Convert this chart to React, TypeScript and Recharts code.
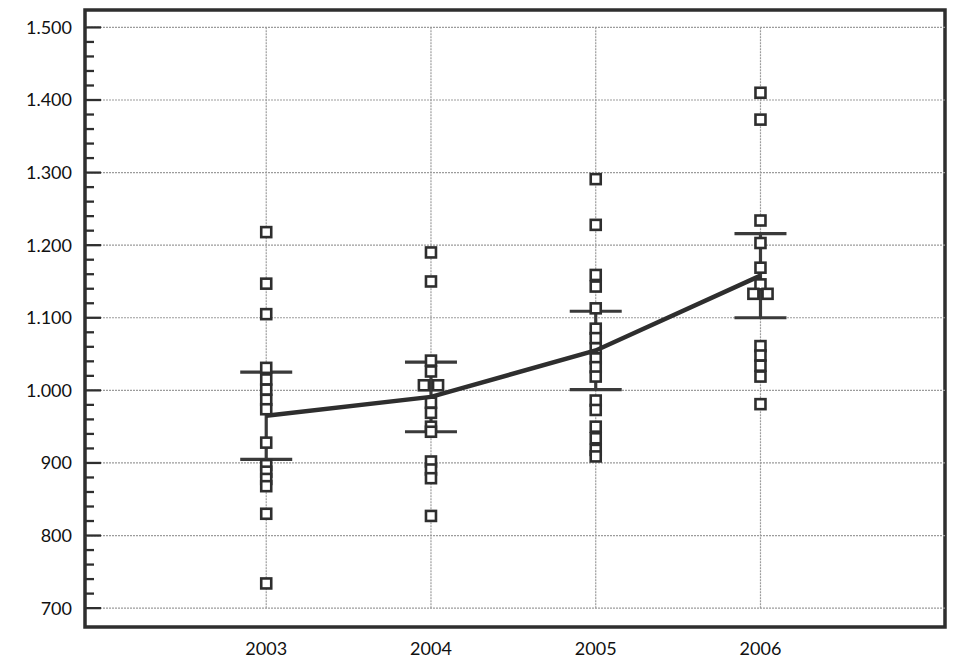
import { ErrorBar, ReferenceArea, ReferenceLine, Scatter, ScatterChart, XAxis, YAxis } from "recharts";

const years = [2003, 2004, 2005, 2006];

const values2003 = [1218, 1147, 1105, 1031, 1015, 1001, 987, 974, 928, 897, 888, 878, 868, 830, 734];
const values2004 = [1190, 1150, 1041, 1026, 983, 969, 950, 943, 902, 891, 879, 827];
const values2005 = [1291, 1228, 1159, 1143, 1113, 1085, 1072, 1058, 1044, 1032, 1019, 986, 973, 950, 934, 918, 909];
const values2006 = [1410, 1373, 1234, 1203, 1169, 1146, 1061, 1048, 1034, 1019, 981];

// pairs drawn side by side (same year, same value)
const pairYears = [2004, 2006];
const pairValues = [1007, 1133];

// mean and error per year
const means = [965, 991, 1055, 1158];
const errors = [60, 48, 54, 58];

const majorTicks = [700, 800, 900, 1000, 1100, 1200, 1300, 1400, 1500];
const yearTicks = [2003, 2004, 2005, 2006];

const JITTER = 0.043;
const INK = "#2e2e2e";
const GRID = "#9c9c9c";
const FONT = "Lato, 'Open Sans', sans-serif";

const allTicks = majorTicks.flatMap((t, i) =>
  i === majorTicks.length - 1 ? [t] : [t, t + 20, t + 40, t + 60, t + 80]
);

const points = [values2003, values2004, values2005, values2006].flatMap((list, i) =>
  list.map((y) => ({ x: years[i], y }))
);
pairYears.forEach((year, i) => {
  points.push({ x: year - JITTER, y: pairValues[i] });
  points.push({ x: year + JITTER, y: pairValues[i] });
});

const meanData = years.map((x, i) => ({ x, y: means[i], err: errors[i] }));

function formatValue(v: number) {
  if (v < 1000) return String(v);
  const rest = String(v % 1000).padStart(3, "0");
  return `${Math.floor(v / 1000)}.${rest}`;
}

function YTick(props: any) {
  const { x, y, payload } = props;
  const v = payload.value as number;
  const major = v % 100 === 0;
  const axisX = x + 13;
  return (
    <g>
      <line x1={axisX} x2={axisX + (major ? 16 : 9)} y1={y} y2={y} stroke={INK} strokeWidth={2.3} />
      {major && (
        <text x={x} y={y} dy="0.36em" textAnchor="end" fill="#111" fontSize={18} fontFamily={FONT}>
          {formatValue(v)}
        </text>
      )}
    </g>
  );
}

function Square(props: any) {
  const { cx, cy } = props;
  return <rect x={cx - 5} y={cy - 5} width={10} height={10} fill="#fff" stroke={INK} strokeWidth={2.6} />;
}

export default function App() {
  return (
    <div style={{ position: "absolute", left: 0, top: 0, width: 973, height: 665, background: "#fff" }}>
      <ScatterChart width={973} height={665} margin={{ top: 10, right: 28, bottom: 0, left: 0 }}>
        <XAxis
          dataKey="x"
          type="number"
          domain={[2001.9, 2007.12]}
          ticks={yearTicks}
          allowDataOverflow
          axisLine={false}
          tickLine={false}
          tickSize={0}
          tickMargin={15}
          height={38}
          tick={{ fill: "#111", fontSize: 18, fontFamily: FONT }}
        />
        <YAxis
          dataKey="y"
          type="number"
          domain={[674, 1524]}
          ticks={allTicks}
          interval={0}
          allowDataOverflow
          axisLine={false}
          tickLine={false}
          tickSize={0}
          tickMargin={13}
          width={85}
          tick={<YTick />}
        />
        {majorTicks.map((v) => (
          <ReferenceLine key={`h${v}`} y={v} stroke={GRID} strokeDasharray="2 1" strokeWidth={1.2} />
        ))}
        {yearTicks.map((yr) => (
          <ReferenceLine
            key={`v${yr}`}
            segment={[{ x: yr, y: 700 }, { x: yr, y: 1500 }]}
            stroke={GRID}
            strokeDasharray="2 1"
            strokeWidth={1.2}
          />
        ))}
        <Scatter data={points} shape={<Square />} isAnimationActive={false} />
        <Scatter
          data={meanData}
          shape={() => <g />}
          line={{ stroke: INK, strokeWidth: 4.5 }}
          isAnimationActive={false}
        >
          <ErrorBar dataKey="err" direction="y" width={26} stroke="#3a3a3a" strokeWidth={3.2} />
        </Scatter>
        <ReferenceArea
          x1={2001.9}
          x2={2007.12}
          y1={674}
          y2={1524}
          fill="none"
          stroke={INK}
          strokeWidth={3.5}
          ifOverflow="visible"
        />
      </ScatterChart>
    </div>
  );
}
